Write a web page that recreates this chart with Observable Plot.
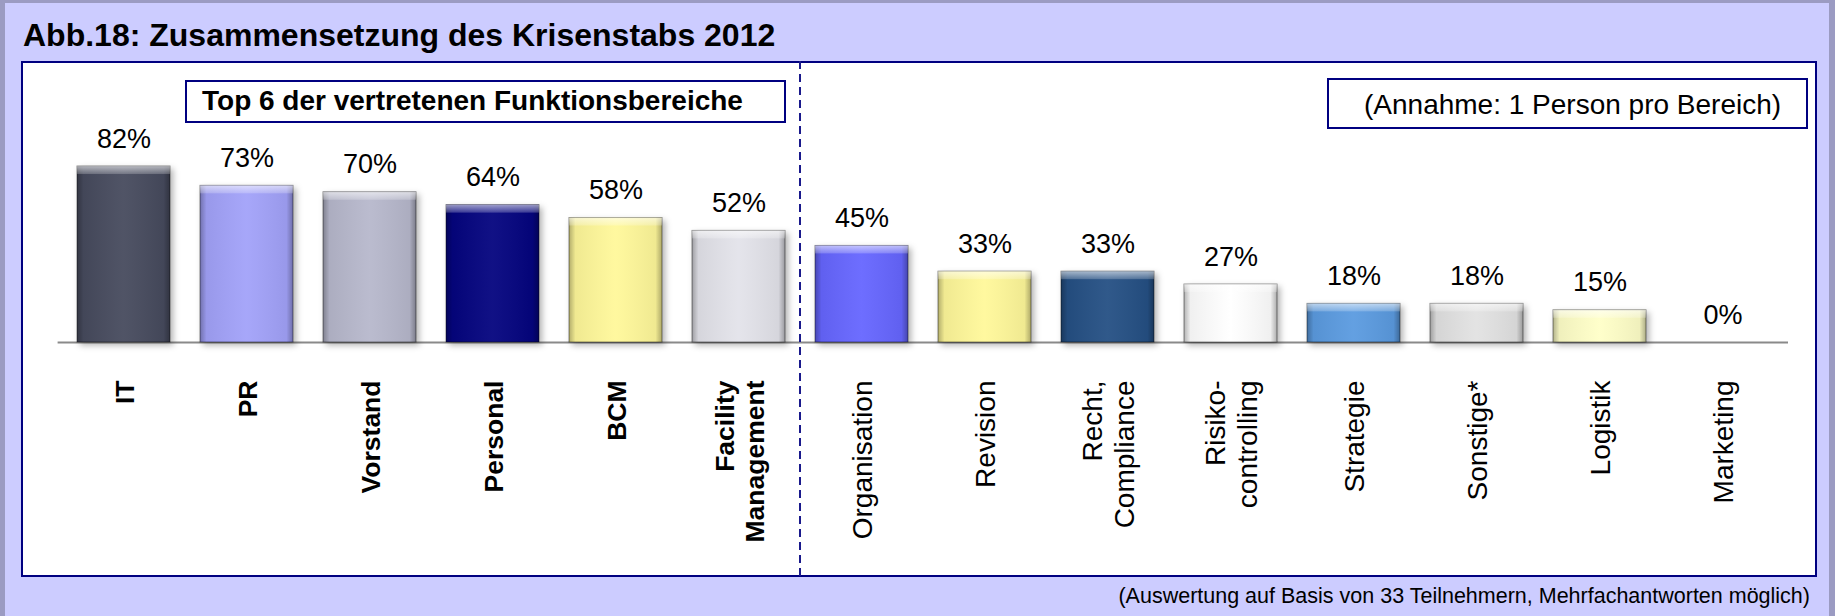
<!DOCTYPE html>
<html>
<head>
<meta charset="utf-8">
<script src="https://cdn.jsdelivr.net/npm/d3@7"></script>
<script src="https://cdn.jsdelivr.net/npm/@observablehq/plot@0.6"></script>
<style>
html, body { margin: 0; padding: 0; background: #ccccff; }
#fig {
  position: relative; width: 1835px; height: 616px; overflow: hidden;
  background: #ccccff;
  box-shadow: inset 5px 3px 0 0 #9b9bc2, inset -6px 0 0 0 #9b9bc2;
  font-family: "Liberation Sans", Arial, sans-serif; color: #000;
}
.t { position: absolute; white-space: nowrap; line-height: 1; }
#title { left: 23px; top: 19px; font-size: 32px; font-weight: bold; }
#panel { position: absolute; left: 21px; top: 61px; width: 1796px; height: 516px; box-sizing: border-box; border: 2px solid #000080; background: #fff; }
.box { position: absolute; box-sizing: border-box; border: 2px solid #000080; background: #fff; }
#box1 { left: 185px; top: 80px; width: 601px; height: 43px; }
#box2 { left: 1327px; top: 78px; width: 481px; height: 51px; }
#box1t { left: 202px; top: 87px; font-size: 28px; font-weight: bold; }
#box2t { left: 1364px; top: 91px; font-size: 28px; }
#footer { right: 25px; top: 586px; font-size: 21.5px; }
#chart { position: absolute; left: 23px; top: 63px; }
</style>
</head>
<body>
<svg width="0" height="0" style="position:absolute">
  <defs>
    <linearGradient id="sideShade" x1="0" x2="1" y1="0" y2="0">
      <stop offset="0" stop-color="#000" stop-opacity="0.30"/>
      <stop offset="0.07" stop-color="#000" stop-opacity="0.06"/>
      <stop offset="0.5" stop-color="#fff" stop-opacity="0.05"/>
      <stop offset="0.93" stop-color="#000" stop-opacity="0.06"/>
      <stop offset="1" stop-color="#000" stop-opacity="0.32"/>
    </linearGradient>
    <linearGradient id="topBevel" x1="0" x2="0" y1="0" y2="1">
      <stop offset="0" stop-color="#fff" stop-opacity="0.6"/>
      <stop offset="1" stop-color="#fff" stop-opacity="0.2"/>
    </linearGradient>
  </defs>
</svg>
<div id="fig">
  <div id="title" class="t">Abb.18: Zusammensetzung des Krisenstabs 2012</div>
  <div id="panel"></div>
  <div id="box1" class="box"></div>
  <div id="box1t" class="t">Top 6 der vertretenen Funktionsbereiche</div>
  <div id="box2" class="box"></div>
  <div id="box2t" class="t">(Annahme: 1 Person pro Bereich)</div>
  <div id="chart"></div>
  <div id="footer" class="t">(Auswertung auf Basis von 33 Teilnehmern, Mehrfachantworten möglich)</div>
</div>
<script>
// ---- data ----
const categories = ["IT", "PR", "Vorstand", "Personal", "BCM", "Facility Management",
  "Organisation", "Revision", "Recht, Compliance", "Risikocontrolling", "Strategie",
  "Sonstige*", "Logistik", "Marketing"];
const tickLabels = ["IT", "PR", "Vorstand", "Personal", "BCM", "Facility\nManagement",
  "Organisation", "Revision", "Recht,\nCompliance", "Risiko-\ncontrolling", "Strategie",
  "Sonstige*", "Logistik", "Marketing"];
const values = [82, 73, 70, 64, 58, 52, 45, 33, 33, 27, 18, 18, 15, 0];
const topSix = categories.slice(0, 6);
const others = categories.slice(6);

// ---- styling ----
const barColors = ["#474b5e", "#a2a2f9", "#b7b8cc", "#04047f", "#fff89a", "#e3e3ea",
  "#6666ff", "#fff89a", "#255084", "#ffffff", "#5b9be0", "#e2e2e2", "#ffffc8", "#cccccc"];

const data = categories.map((c, i) => ({category: c, value: values[i]}));
const labelOf = Object.fromEntries(categories.map((c, i) => [c, tickLabels[i]]));
const nonZero = data.filter(d => d.value > 0);

const axisCommon = {
  anchor: "bottom", tickSize: 0, tickPadding: 38, tickRotate: -90,
  tickFormat: c => labelOf[c], textAnchor: "end", lineAnchor: "middle",
  lineHeight: 1.15, fill: "#000", label: null
};

const chart = Plot.plot({
  width: 1792, height: 512,
  marginLeft: 34.6, marginRight: 27, marginTop: 64.4, marginBottom: 233,
  x: {domain: categories, paddingInner: 0.243, paddingOuter: 0.1215},
  y: {domain: [0, 100], axis: null},
  color: {domain: categories, range: barColors},
  style: {background: "transparent", fontFamily: "'Liberation Sans', Arial, sans-serif", overflow: "visible", color: "#000"},
  marks: [
    Plot.ruleY([0], {stroke: "#8a8a8a", strokeWidth: 2}),
    Plot.barY(nonZero, {x: "category", y: "value", fill: "category", stroke: "#000", strokeOpacity: 0.45, strokeWidth: 1}),
    Plot.barY(nonZero, {x: "category", y: "value", fill: "url(#sideShade)"}),
    Plot.barY(nonZero, {x: "category", y1: "value", y2: "value", insetBottom: -8, fill: "url(#topBevel)"}),
    Plot.text(data, {x: "category", y: "value", text: d => d.value + "%", dy: -19, lineAnchor: "bottom", fontSize: 27, fill: "#000"}),
    Plot.axisX(topSix, {...axisCommon, fontSize: 26.5, fontWeight: "bold"}),
    Plot.axisX(others, {...axisCommon, fontSize: 28})
  ]
});
document.getElementById("chart").appendChild(chart);

// soft shadow for the bars
const barGroup = chart.querySelector('g[aria-label="bar"]');
if (barGroup) barGroup.style.filter = "drop-shadow(3px 3px 3px rgba(0,0,0,0.3))";

// dashed separator between the top six and the rest, positioned via the x scale
const xs = chart.scale("x");
const xm = (xs.apply(topSix[topSix.length - 1]) + xs.bandwidth + xs.apply(others[0])) / 2;
d3.select(chart).append("line")
  .attr("x1", xm).attr("x2", xm).attr("y1", -2).attr("y2", 514)
  .attr("stroke", "#1a1a8c").attr("stroke-width", 2).attr("stroke-dasharray", "8,5");
</script>
</body>
</html>
